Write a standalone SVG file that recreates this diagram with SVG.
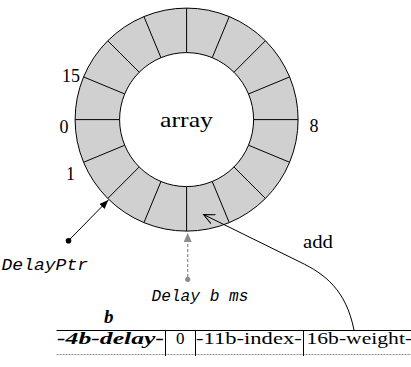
<svg xmlns="http://www.w3.org/2000/svg" width="411" height="367" viewBox="0 0 411 367">
<style>
.ln{stroke:#000;stroke-width:1;fill:none}
.serif{font-family:"Liberation Serif","DejaVu Serif",serif;fill:#000}
.mono{font-family:"Liberation Mono","DejaVu Sans Mono",monospace;fill:#000}
.it{font-style:italic}
</style>
<defs>
<marker id="ahBlack" markerUnits="userSpaceOnUse" markerWidth="10" markerHeight="8" refX="9" refY="3.5" orient="auto"><path d="M0,0 L9,3.5 L0,7 z" fill="#000"/></marker>
<marker id="ahGray" markerUnits="userSpaceOnUse" markerWidth="10" markerHeight="10" refX="9" refY="4" orient="auto"><path d="M0,0 L9,4 L0,8 z" fill="#8c8c8c"/></marker>
<marker id="ahOpen" markerUnits="userSpaceOnUse" markerWidth="14" markerHeight="12" refX="11" refY="5" orient="auto"><path d="M0,0 L11,5 L0,10" fill="none" stroke="#000" stroke-width="1"/></marker>
</defs>
<rect width="411" height="367" fill="#fff"/>

<g id="ring">
<path d="M75.1,119.6 a111.5,111.5 0 1,0 223,0 a111.5,111.5 0 1,0 -223,0 z M119.6,119.6 a67,67 0 1,0 134,0 a67,67 0 1,0 -134,0 z" fill="#d0d0d0" fill-rule="evenodd" stroke="#000" stroke-width="1"/>
<g class="ln">
<line x1="253.6" y1="119.6" x2="298.1" y2="119.6"/>
<line x1="248.5" y1="145.24" x2="289.61" y2="162.27"/>
<line x1="233.98" y1="166.98" x2="265.44" y2="198.44"/>
<line x1="212.24" y1="181.5" x2="229.27" y2="222.61"/>
<line x1="186.6" y1="186.6" x2="186.6" y2="231.1"/>
<line x1="160.96" y1="181.5" x2="143.93" y2="222.61"/>
<line x1="139.22" y1="166.98" x2="107.76" y2="198.44"/>
<line x1="124.7" y1="145.24" x2="83.59" y2="162.27"/>
<line x1="119.6" y1="119.6" x2="75.1" y2="119.6"/>
<line x1="124.7" y1="93.96" x2="83.59" y2="76.93"/>
<line x1="139.22" y1="72.22" x2="107.76" y2="40.76"/>
<line x1="160.96" y1="57.7" x2="143.93" y2="16.59"/>
<line x1="186.6" y1="52.6" x2="186.6" y2="8.1"/>
<line x1="212.24" y1="57.7" x2="229.27" y2="16.59"/>
<line x1="233.98" y1="72.22" x2="265.44" y2="40.76"/>
<line x1="248.5" y1="93.96" x2="289.61" y2="76.93"/>
</g>
<text class="serif" x="160" y="126.7" font-size="22" textLength="53" lengthAdjust="spacingAndGlyphs">array</text>
</g>

<g id="index-labels" class="serif" font-size="18">
<text x="62" y="81.5">15</text>
<text x="59.5" y="133">0</text>
<text x="66" y="180">1</text>
<text x="309.5" y="132">8</text>
</g>

<g id="delayptr">
<circle cx="68.5" cy="240.7" r="2.8" fill="#000"/>
<text class="mono it" x="1.5" y="270" font-size="16" textLength="86.5" lengthAdjust="spacingAndGlyphs">DelayPtr</text>
</g>

<g id="delay-b-ms">
<circle cx="187.7" cy="279.3" r="2.6" fill="#8c8c8c"/>
<text class="mono it" x="151.5" y="300.7" font-size="16" textLength="97" lengthAdjust="spacingAndGlyphs">Delay b ms</text>
</g>

<g id="add-label">
<text class="serif" x="303" y="248" font-size="19" textLength="30" lengthAdjust="spacingAndGlyphs">add</text>
</g>

<g id="field-table">
<text class="serif it" x="104" y="323" font-size="19" font-weight="bold">b</text>
<line x1="56.5" y1="330.5" x2="411" y2="330.5" stroke="#000" stroke-width="1"/>
<line x1="56.5" y1="354.5" x2="411" y2="354.5" stroke="#8c8c8c" stroke-width="1" stroke-dasharray="2 1"/>
<g class="ln">
<line x1="165.5" y1="330.5" x2="165.5" y2="356"/>
<line x1="195.5" y1="330.5" x2="195.5" y2="356"/>
<line x1="303.5" y1="330.5" x2="303.5" y2="356"/>
</g>
<text class="serif it" x="57" y="343.5" font-size="17" font-weight="bold" textLength="107" lengthAdjust="spacingAndGlyphs">-4b-delay-</text>
<text class="serif" x="176" y="344" font-size="17">0</text>
<text class="serif" x="196" y="344" font-size="17" textLength="105.7" lengthAdjust="spacingAndGlyphs">-11b-index-</text>
<text class="serif" x="306.5" y="344" font-size="17" textLength="105.6" lengthAdjust="spacingAndGlyphs">16b-weight-</text>
</g>

<g id="connectors">
<line x1="68.5" y1="240.7" x2="108.3" y2="200" stroke="#000" stroke-width="1" marker-end="url(#ahBlack)"/>
<line x1="187.7" y1="277" x2="187.7" y2="233" stroke="#8c8c8c" stroke-width="1.2" stroke-dasharray="3 2" marker-end="url(#ahGray)"/>
<path d="M354,330 C346,290 325,274 300,262 L203.5,214.5" class="ln" marker-end="url(#ahOpen)"/>
</g>
</svg>
